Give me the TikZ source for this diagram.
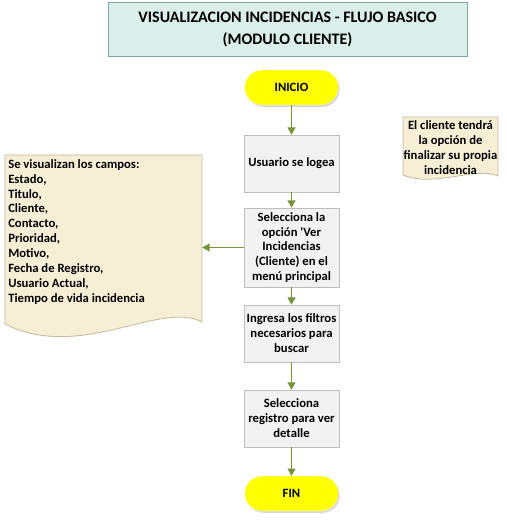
\documentclass[tikz,border=0pt]{standalone}
\usepackage{fontspec}
\setmainfont{Carlito}
\usetikzlibrary{arrows.meta,shadows}
\definecolor{Titlefill}{RGB}{218,238,234}
\definecolor{Titleline}{RGB}{125,165,170}
\definecolor{Boxfill}{RGB}{242,242,242}
\definecolor{Boxline}{RGB}{190,190,190}
\definecolor{Notefill}{RGB}{246,239,214}
\definecolor{Noteline}{RGB}{196,186,155}
\definecolor{Arrowgreen}{RGB}{119,147,60}
\definecolor{Pillyellow}{RGB}{255,255,0}
\definecolor{Pillline}{RGB}{250,250,150}

\tikzset{
  boxfont/.style={font=\bfseries\fontsize{9.5}{11.2}\selectfont},
  stepbox/.style={boxfont, draw=Boxline, fill=Boxfill, align=center, inner sep=1pt,
    minimum width=71.25pt, minimum height=42.75pt,
    drop shadow={opacity=0.25, shadow xshift=1pt, shadow yshift=-1pt}},
  terminal/.style={boxfont, draw=Pillline, fill=Pillyellow, minimum width=70pt, minimum height=26pt,
    rounded corners=13pt, drop shadow={opacity=0.3, shadow xshift=1.2pt, shadow yshift=-1.5pt}},
  notebox/.style={draw=Noteline, fill=Notefill, line width=0.6pt},
  flow/.style={draw=Arrowgreen, line width=0.8pt, -{Triangle[length=5.5pt,width=6pt]}}
}

\begin{document}
\begin{tikzpicture}[x=0.75pt, y=-0.75pt]
  \useasboundingbox (0,0) rectangle (506,520);

  % titulo
  \node[draw=Titleline, fill=Titlefill, minimum width=269pt, minimum height=40.5pt, align=center,
        font=\bfseries\fontsize{12}{16.5}\selectfont] (titulo) at (287.5,29)
        {VISUALIZACION INCIDENCIAS - FLUJO BASICO\\(MODULO CLIENTE)};

  % flujo principal
  \node[terminal] (inicio) at (291.5,87.5) {INICIO};
  \node[stepbox] (logea) at (291.5,163.5) {Usuario se logea};
  \node[stepbox, minimum height=59.25pt] (opcion) at (291.5,247.5)
        {Selecciona la\\opción \textquotesingle Ver\\Incidencias\\(Cliente) en el\\menú principal};
  \node[stepbox] (filtros) at (291.5,333.5) {Ingresa los filtros\\necesarios para\\buscar};
  \node[stepbox] (detalle) at (291.5,418.5) {Selecciona\\registro para ver\\detalle};
  \node[terminal] (fin) at (291.5,493.5) {FIN};

  % documento de campos
  \draw[notebox] (5,155) -- (202,155) -- (202,322)
        .. controls (160,300) and (80,362) .. (5,324) -- cycle;
  \node[minimum width=147.75pt, minimum height=138.75pt] (campos) at (103.5,247.5) {};
  \node[boxfont, align=left, anchor=north west, inner sep=0pt] (camposTxt) at (8,159)
        {Se visualizan los campos:\\Estado,\\Titulo,\\Cliente,\\Contacto,\\Prioridad,\\Motivo,\\Fecha de Registro,\\Usuario Actual,\\Tiempo de vida incidencia};

  % nota
  \draw[notebox] (403,117) -- (498,117) -- (498,176)
        .. controls (475,166) and (435,188) .. (403,175) -- cycle;
  \node[boxfont, align=center, inner sep=0pt] (nota) at (450.5,148)
        {El cliente tendrá\\la opción de\\finalizar su propia\\incidencia};

  % conectores
  \draw[flow] (inicio) -- (logea);
  \draw[flow] (logea) -- (opcion);
  \draw[flow] (opcion) -- (filtros);
  \draw[flow] (filtros) -- (detalle);
  \draw[flow] (detalle) -- (fin);
  \draw[flow] (opcion.west) -- (campos.east);
\end{tikzpicture}
\end{document}
